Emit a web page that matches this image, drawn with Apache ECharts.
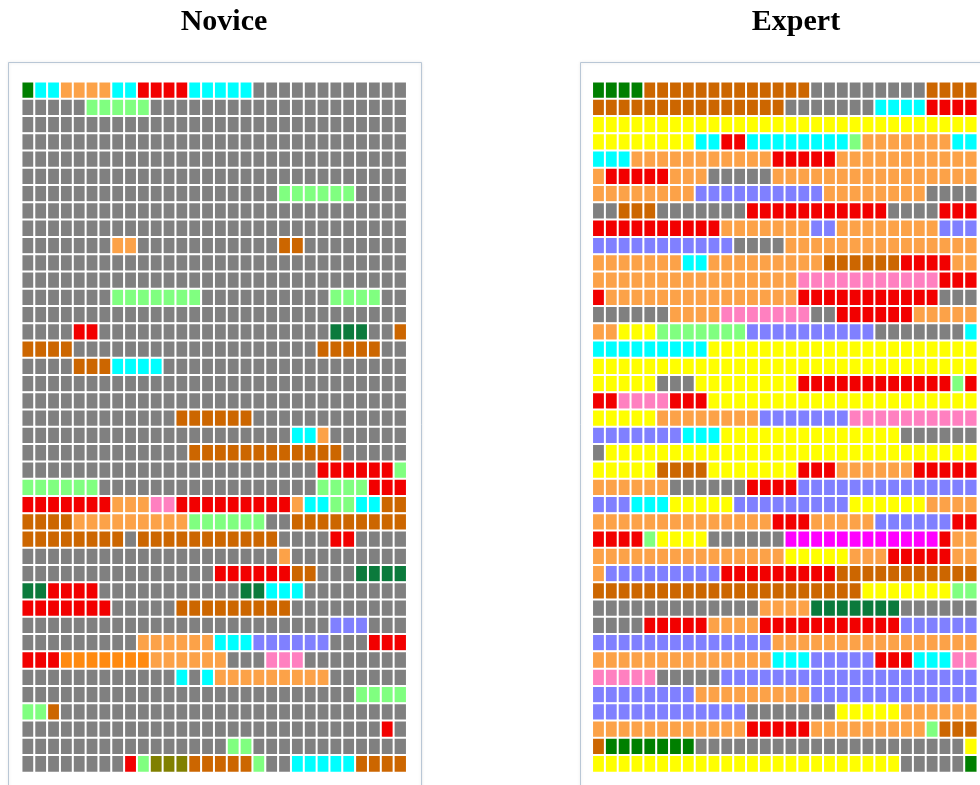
<!DOCTYPE html>
<html>
<head>
<meta charset="utf-8">
<title>Novice vs Expert</title>
<script src="https://cdn.jsdelivr.net/npm/echarts@6/dist/echarts.min.js"></script>
<style>
  html, body { margin: 0; padding: 0; background: #fff; }
  #main { width: 980px; height: 785px; }
</style>
</head>
<body>
<div id="main"></div>
<script>
// one string per row, one letter per cell (see activity codes below)
var noviceRows = [
    "DCCOOOOCCRRRRCCCCCGGGGGGGGGGGG",
    "GGGGGLLLLLGGGGGGGGGGGGGGGGGGGG",
    "GGGGGGGGGGGGGGGGGGGGGGGGGGGGGG",
    "GGGGGGGGGGGGGGGGGGGGGGGGGGGGGG",
    "GGGGGGGGGGGGGGGGGGGGGGGGGGGGGG",
    "GGGGGGGGGGGGGGGGGGGGGGGGGGGGGG",
    "GGGGGGGGGGGGGGGGGGGGLLLLLLGGGG",
    "GGGGGGGGGGGGGGGGGGGGGGGGGGGGGG",
    "GGGGGGGGGGGGGGGGGGGGGGGGGGGGGG",
    "GGGGGGGOOGGGGGGGGGGGBBGGGGGGGG",
    "GGGGGGGGGGGGGGGGGGGGGGGGGGGGGG",
    "GGGGGGGGGGGGGGGGGGGGGGGGGGGGGG",
    "GGGGGGGLLLLLLLGGGGGGGGGGLLLLGG",
    "GGGGGGGGGGGGGGGGGGGGGGGGGGGGGG",
    "GGGGRRGGGGGGGGGGGGGGGGGGEEEGGB",
    "BBBBGGGGGGGGGGGGGGGGGGGBBBBBGG",
    "GGGGBBBCCCCGGGGGGGGGGGGGGGGGGG",
    "GGGGGGGGGGGGGGGGGGGGGGGGGGGGGG",
    "GGGGGGGGGGGGGGGGGGGGGGGGGGGGGG",
    "GGGGGGGGGGGGBBBBBBGGGGGGGGGGGG",
    "GGGGGGGGGGGGGGGGGGGGGCCOGGGGGG",
    "GGGGGGGGGGGGGBBBBBBBBBBBBGGGGG",
    "GGGGGGGGGGGGGGGGGGGGGGGRRRRRRL",
    "LLLLLLGGGGGGGGGGGGGGGGGLLLLRRR",
    "RRRRRRROOOKKRRRRRRRRROCCLLCCBB",
    "BBBBOOOOOOOOOLLLLLLGGBBBBBBBBB",
    "BBBBBBBBGBBBBBBBBBBBGGGGRRGGGG",
    "GGGGGGGGGGGGGGGGGGGGOGGGGGGGGG",
    "GGGGGGGGGGGGGGGRRRRRRBBGGGEEEE",
    "EERRRRGGGGGGGGGGGEECCCGGGGGGGG",
    "RRRRRRRGGGGGBBBBBBBBBGGGGGGGGG",
    "GGGGGGGGGGGGGGGGGGGGGGGGPPPGGG",
    "GGGGGGGGGOOOOOOCCCPPPPPPGGGRRR",
    "RRRNNNNNNNOOOOOOGGGKKKGGGGGGGG",
    "GGGGGGGGGGGGCGCOOOOOOOOOGGGGGG",
    "GGGGGGGGGGGGGGGGGGGGGGGGGGLLLL",
    "LLBGGGGGGGGGGGGGGGGGGGGGGGGGGG",
    "GGGGGGGGGGGGGGGGGGGGGGGGGGGGRG",
    "GGGGGGGGGGGGGGGGLLGGGGGGGGGGGG",
    "GGGGGGGGRLVVVBBBBBLGGCCCCCBBBB"
];

var expertRows = [
    "DDDDBBBBBBBBBBBBBGGGGGGGGGBBBB",
    "BBBBBBBBBBBBBBBGGGGGGGCCCCRRRR",
    "YYYYYYYYYYYYYYYYYYYYYYYYYYYYYY",
    "YYYYYYYYCCRRCCCCCCCCLOOOOOOOCC",
    "CCCOOOOOOOOOOORRRRROOOOOOOOOOO",
    "ORRRRROOOGGGGGOOOOOOOOOOOOOOOO",
    "OOOOOOOOPPPPPPPPPPOOOOOOOOGGGG",
    "GGBBBGGGGGGGRRRRRRRRRRRGGGGRRR",
    "RRRRRRRRRROOOOOOOPPOOOOOOOOPPP",
    "PPPPPPPPPPPGGGGOOOOOOOOOOOOOOO",
    "OOOOOOOCCOOOOOOOOOBBBBBBRRRROO",
    "OOOOOOOOOOOOOOOOKKKKKKKKKKKRRR",
    "ROOOOOOOOOOOOOOORRRRRRRRRRRGGG",
    "GGGGGGOOOOKKKKKKKGGRRRRRROOOOO",
    "OOYYYLLLLLLLPPPPPPPPPPGGGGGGGC",
    "CCCCCCCCCYYYYYYYYYYYYYYYYYYYYY",
    "YYYYYYYYYYYYYYYYYYYYYYYYYYYYYY",
    "YYYYYGGGYYYYYYYYRRRRRRRRRRRRLR",
    "RRKKKKRRRYYYYYYYYYYYYYYYYYYYYY",
    "YYYYYOOOOOOOOPPPPPPPKKKKKKKKKK",
    "PPPPPPPCCCYYYYYYYYYYYYYYGGGGGG",
    "GYYYYYYYYYYYYYYYYYYYYYYYYYYYYY",
    "YYYYYBBBBYYYYYYYRRROOOOOORRRRR",
    "OOOOOOGGGGGGRRRRPPPPPPPPPPPPPP",
    "PPPCCCYYYYYPPPPPPPPPYYYYYYOOOO",
    "OOOOOOOOOOOOOORRROOOOOPPPPPPRR",
    "RRRRLYYYYGGGGGGMMMMMMMMMMMMROO",
    "OOOOOOOOOOOOOOOYYYYYOOORRRRROO",
    "OPPPPPPPPPRRRRRRRRRBBBBBBBBBBB",
    "BBBBBBBBBBBBBBBBBBBBBYYYYYYYLL",
    "GGGGGGGGGGGGGOOOOEEEEEEEGGGGGG",
    "GGGGRRRRROOOORRRRRRRRRRRPPPPPP",
    "PPPPPPPPPPPPPPOOOOOOOOOOOOOOOO",
    "OOOOOOOOOOOOOOCCCPPPPPRRRCCCKK",
    "KKKKKGGGGGPPPPPPPPPPPPPPPPPPPP",
    "PPPPPPPPOOOOOOOOOPPPPPPPPPPPPP",
    "PPPPPPPPPPPPGGGGGGGYYYYYOOOOOO",
    "OOOOOOOOOOOORRRRROOOOOOOOOLBBB",
    "BDDDDDDDGGGGGGGGGGGGGGGGGGGGGY",
    "YYYYYYYYYYYYYYYYYYYYYYYYGGGGGD"
];

var panelTitles = ['Novice', 'Expert'];

// activity codes and their colours
var codes = ['G', 'D', 'E', 'C', 'O', 'R', 'L', 'B', 'Y', 'P', 'K', 'M', 'N', 'V'];
var palette = {
    G: '#808080', D: '#007f00', E: '#0b7a3c', C: '#00ffff', O: '#fca248',
    R: '#f20000', L: '#80ff80', B: '#cc6600', Y: '#ffff00', P: '#8080ff',
    K: '#ff80c0', M: '#ff00ff', N: '#ff8a10', V: '#808000'
};

var nCols = noviceRows[0].length;
var nRows = noviceRows.length;
var colCats = [], rowCats = [];
for (var i = 0; i < nCols; i++) colCats.push(i);
for (var j = 0; j < nRows; j++) rowCats.push(j);

function toCells(rows) {
    var out = [];
    rows.forEach(function (row, y) {
        for (var x = 0; x < row.length; x++) {
            out.push([x, y, codes.indexOf(row[x])]);
        }
    });
    return out;
}

var chart = echarts.init(document.getElementById('main'));

var lefts = [21.7, 592.3];
var centers = [224, 796];
var frames = [8.5, 580.5];

var option = {
    animation: false,
    title: panelTitles.map(function (t, k) {
        return {
            text: t,
            left: centers[k],
            top: 7,
            padding: 0,
            textAlign: 'center',
            textStyle: {
                fontFamily: 'Liberation Serif, Times New Roman, serif',
                fontWeight: 'bold',
                fontSize: 30,
                color: '#000'
            }
        };
    }),
    graphic: frames.map(function (fx) {
        return {
            type: 'rect',
            z: -10,
            shape: { x: fx, y: 62.5, width: 413, height: 740 },
            style: { fill: '#fff', stroke: '#b9c7d6', lineWidth: 1,
                     shadowBlur: 3, shadowColor: 'rgba(0,0,0,0.12)' }
        };
    }),
    grid: lefts.map(function (l) {
        return { left: l, top: 81.7, width: 385, height: 690.8 };
    }),
    xAxis: [0, 1].map(function (k) {
        return { type: 'category', gridIndex: k, data: colCats, show: false };
    }),
    yAxis: [0, 1].map(function (k) {
        return { type: 'category', gridIndex: k, data: rowCats, inverse: true, show: false };
    }),
    visualMap: {
        type: 'piecewise',
        show: false,
        dimension: 2,
        seriesIndex: [0, 1],
        pieces: codes.map(function (c, i) {
            return { value: i, color: palette[c] };
        })
    },
    series: [noviceRows, expertRows].map(function (rows, k) {
        return {
            name: panelTitles[k],
            type: 'heatmap',
            xAxisIndex: k,
            yAxisIndex: k,
            data: toCells(rows),
            itemStyle: { borderColor: '#fff', borderWidth: 2 },
            emphasis: { disabled: true }
        };
    })
};

chart.setOption(option);
</script>
</body>
</html>
